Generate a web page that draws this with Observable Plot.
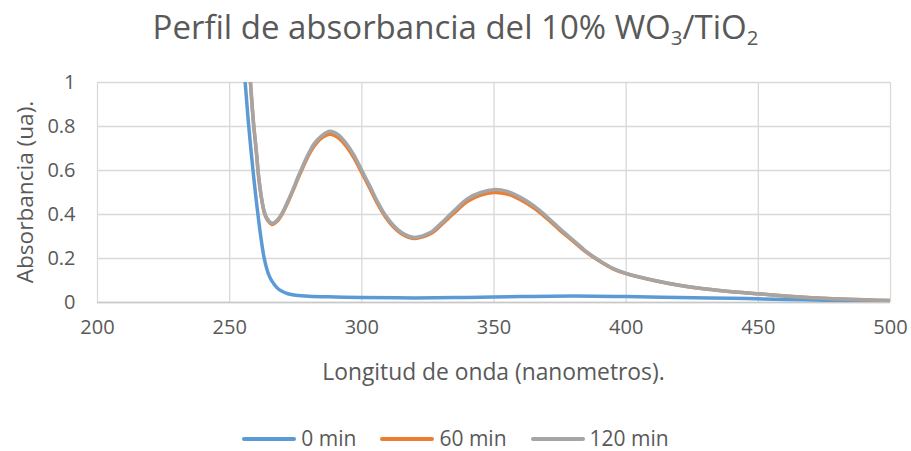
<!DOCTYPE html>
<html><head><meta charset="utf-8">
<script src="https://cdn.jsdelivr.net/npm/d3@7"></script>
<script src="https://cdn.jsdelivr.net/npm/@observablehq/plot@0.6"></script>
<style>
body{margin:0;background:#fff;font-family:"Open Sans",sans-serif;color:#595959}
#wrap{position:relative;width:911px;height:451px;overflow:hidden;background:#fff}
#chart{position:absolute;left:0;top:0}
.lbl{position:absolute;white-space:nowrap;line-height:1}
#title{left:0;width:911px;top:10px;text-align:center;font-size:33px}
#title sub{font-size:0.62em;vertical-align:-0.28em;line-height:0}
#xlab{left:0;width:987px;top:361px;text-align:center;font-size:22.8px}
#ylab{left:25px;top:192px;font-size:22.6px;transform:translate(-50%,-50%) rotate(-90deg)}
#legend{position:absolute;left:0;width:911px;top:428px;display:flex;justify-content:center;align-items:center;font-size:21px;line-height:1}
.item{display:flex;align-items:center;margin:0 12px}
.sw{width:54px;height:4px;border-radius:2px;margin-right:5px}
</style></head>
<body><div id="wrap">
<div id="chart"></div>
<div id="title" class="lbl">Perfil de absorbancia del 10% WO<sub>3</sub>/TiO<sub>2</sub></div>
<div id="xlab" class="lbl">Longitud de onda (nanometros).</div>
<div id="ylab" class="lbl">Absorbancia (ua).</div>
<div id="legend"></div>
</div>
<script>
const xTicks = [200, 250, 300, 350, 400, 450, 500];
const yTicks = [0, 0.2, 0.4, 0.6, 0.8, 1];
const seriesNames = ["0 min", "60 min", "120 min"];
const seriesColors = ["#5B9BD5", "#ED7D31", "#A5A5A5"];

const wl0 = [255,256,257,258,259,260,261,262,263,264,265,266,267,268,270,272,275,280,290,300,320,340,360,380,400,420,440,460,480,500];
const abs0 = [1.15,0.98,0.83,0.70,0.58,0.47,0.37,0.28,0.205,0.155,0.12,0.097,0.08,0.066,0.05,0.04,0.033,0.028,0.025,0.023,0.021,0.023,0.027,0.029,0.027,0.023,0.019,0.014,0.009,0.005];

const wl = [256,257,258,259,260,261,262,263,264,266,268,270,272,274,276,278,280,282,285,288,291,294,297,300,303,306,309,312,315,318,320,323,325,327,330,335,340,345,350,355,360,365,370,375,380,385,390,395,400,410,420,430,440,450,460,470,480,490,500];
const abs60 = [1.35,1.15,0.975,0.815,0.695,0.565,0.475,0.413,0.38,0.355,0.37,0.405,0.455,0.51,0.568,0.622,0.672,0.712,0.75,0.765,0.75,0.712,0.658,0.59,0.52,0.448,0.388,0.343,0.312,0.295,0.291,0.298,0.307,0.32,0.352,0.408,0.46,0.488,0.50,0.493,0.467,0.43,0.382,0.328,0.278,0.228,0.187,0.153,0.131,0.101,0.078,0.061,0.049,0.04,0.03,0.022,0.016,0.012,0.009];
const abs120 = [1.35,1.15,0.98,0.82,0.70,0.57,0.48,0.418,0.385,0.36,0.375,0.41,0.46,0.515,0.575,0.63,0.68,0.722,0.76,0.778,0.763,0.725,0.67,0.60,0.53,0.457,0.395,0.35,0.318,0.30,0.296,0.303,0.313,0.327,0.36,0.418,0.472,0.50,0.513,0.505,0.478,0.44,0.39,0.335,0.283,0.231,0.19,0.155,0.132,0.102,0.078,0.061,0.049,0.04,0.03,0.022,0.016,0.012,0.009];

const rows = [
  ...wl0.map((x, i) => ({x, y: abs0[i], s: seriesNames[0]})),
  ...wl.map((x, i) => ({x, y: abs60[i], s: seriesNames[1]})),
  ...wl.map((x, i) => ({x, y: abs120[i], s: seriesNames[2]}))
];

const chart = Plot.plot({
  width: 911, height: 451,
  marginTop: 82, marginBottom: 149, marginLeft: 97, marginRight: 21,
  style: {fontFamily: '"Open Sans", sans-serif', color: "#595959", background: "transparent"},
  x: {domain: [200, 500]},
  y: {domain: [0, 1]},
  color: {domain: seriesNames, range: seriesColors},
  marks: [
    Plot.gridY(yTicks, {stroke: "#d9d9d9", strokeOpacity: 1, strokeWidth: 1.3}),
    Plot.gridX(xTicks, {stroke: "#d9d9d9", strokeOpacity: 1, strokeWidth: 1.3}),
    Plot.ruleY([0], {stroke: "#c8c8c8", strokeWidth: 1.5}),
    Plot.line(rows, {x: "x", y: "y", z: "s", stroke: "s", strokeWidth: 3.5, curve: "catmull-rom", clip: true}),
    Plot.axisX(xTicks, {tickSize: 0, tickPadding: 17, fontSize: 20, label: null, tickFormat: d => String(d)}),
    Plot.axisY(yTicks, {tickSize: 0, tickPadding: 22, fontSize: 20, label: null, tickFormat: d => String(d)})
  ]
});
document.getElementById("chart").appendChild(chart);

const leg = document.getElementById("legend");
seriesNames.forEach((n, i) => {
  const it = document.createElement("div");
  it.className = "item";
  it.innerHTML = `<div class="sw" style="background:${seriesColors[i]}"></div><span>${n}</span>`;
  leg.appendChild(it);
});
</script>
</body></html>
